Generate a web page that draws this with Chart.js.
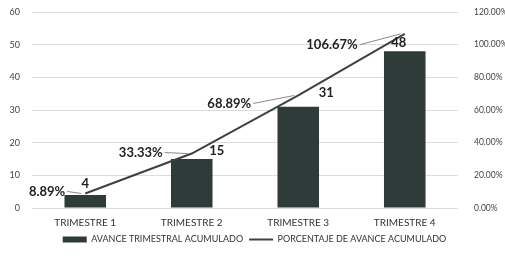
<!DOCTYPE html>
<html>
<head>
<meta charset="utf-8">
<script src="https://cdn.jsdelivr.net/npm/chart.js@4.4.0/dist/chart.umd.min.js"></script>
<style>
  html, body { margin: 0; padding: 0; background: #fff; }
  #wrap { width: 505px; height: 256px; }
</style>
</head>
<body>
<div id="wrap"><canvas id="c" width="505" height="256"></canvas></div>
<script>
// datos del gráfico
const categorias = ['TRIMESTRE 1', 'TRIMESTRE 2', 'TRIMESTRE 3', 'TRIMESTRE 4'];
const avanceAcumulado = [4, 15, 31, 48];
const porcentajeAvance = [8.89, 33.33, 68.89, 106.67];
const ticksIzq = [0, 10, 20, 30, 40, 50, 60];
const ticksDer = [0, 20, 40, 60, 80, 100, 120];

// ajustes de posición de las etiquetas (a mano, como en el original)
const offBarra = [[0, -11], [25, -8], [28, -14], [-6, -8]];
const offPct = [[-20, -2], [-29, -1], [-47, 8], [-47, 11]];

const FONT = 'Lato, "Open Sans", sans-serif';
const BAR = '#2f3b38';
const LINE = '#404040';

const etiquetas = {
  id: 'etiquetas',
  afterDatasetsDraw(chart) {
    const ctx = chart.ctx;
    const barras = chart.getDatasetMeta(0).data;
    const puntos = chart.getDatasetMeta(1).data;
    ctx.save();
    ctx.font = 'bold 13px ' + FONT;
    ctx.fillStyle = '#222';
    ctx.textBaseline = 'middle';
    ctx.textAlign = 'center';
    barras.forEach((b, i) => {
      ctx.fillText(String(avanceAcumulado[i]), b.x + offBarra[i][0], b.y + offBarra[i][1]);
    });
    ctx.textAlign = 'right';
    puntos.forEach((p, i) => {
      const tx = p.x + offPct[i][0];
      const ty = p.y + offPct[i][1];
      ctx.fillText(porcentajeAvance[i].toFixed(2) + '%', tx, ty);
      ctx.strokeStyle = '#8a8a8a';
      ctx.lineWidth = 1;
      ctx.beginPath();
      ctx.moveTo(tx + 2, ty);
      ctx.lineTo(p.x - 4, p.y);
      ctx.stroke();
    });
    ctx.restore();
  },
};

// sin relleno extra arriba/abajo por el padding de los ticks
const sinPadding = (s, w) => { s.width = w; s.paddingTop = 0; s.paddingBottom = 0; };

new Chart(document.getElementById('c'), {
  data: {
    labels: categorias,
    datasets: [
      {
        type: 'bar',
        label: 'AVANCE TRIMESTRAL ACUMULADO',
        data: avanceAcumulado,
        backgroundColor: BAR,
        borderWidth: 0,
        barPercentage: 0.39,
        categoryPercentage: 1,
        yAxisID: 'y',
        order: 2,
      },
      {
        type: 'line',
        label: 'PORCENTAJE DE AVANCE ACUMULADO',
        data: porcentajeAvance,
        borderColor: LINE,
        backgroundColor: LINE,
        borderWidth: 2,
        pointRadius: 0,
        tension: 0,
        yAxisID: 'y1',
        order: 1,
      },
    ],
  },
  options: {
    responsive: false,
    animation: false,
    layout: { padding: { top: 12, left: 4, right: 0, bottom: 2 } },
    scales: {
      x: {
        grid: { display: false, drawTicks: false },
        border: { display: false },
        afterFit: (s) => { s.height = 21; },
        ticks: { color: '#333', font: { family: FONT, size: 10 }, padding: 9 },
      },
      y: {
        position: 'left',
        min: 0, max: 60,
        afterBuildTicks: (s) => { s.ticks = ticksIzq.map((v) => ({ value: v })); },
        afterFit: (s) => sinPadding(s, 28),
        grid: { color: '#dcdcdc', drawTicks: false },
        border: { display: false },
        ticks: { color: '#444', font: { family: FONT, size: 9 }, padding: 12 },
      },
      y1: {
        position: 'right',
        min: 0, max: 120,
        afterBuildTicks: (s) => { s.ticks = ticksDer.map((v) => ({ value: v })); },
        afterFit: (s) => sinPadding(s, 47),
        grid: { display: false },
        border: { display: false },
        ticks: { color: '#444', font: { family: FONT, size: 8.5 }, padding: 8, callback: (v) => v.toFixed(2) + '%' },
      },
    },
    plugins: {
      legend: {
        position: 'bottom',
        labels: {
          color: '#333',
          font: { family: FONT, size: 9 },
          usePointStyle: true,
          pointStyleWidth: 24,
          boxHeight: 6,
          padding: 6,
          generateLabels: (chart) => chart.data.datasets.map((d, i) => ({
            text: d.label,
            fillStyle: d.type === 'bar' ? BAR : LINE,
            strokeStyle: d.type === 'bar' ? BAR : LINE,
            lineWidth: d.type === 'bar' ? 0 : 2,
            pointStyle: d.type === 'bar' ? 'rect' : 'line',
            fontColor: '#333',
            datasetIndex: i,
          })),
        },
      },
      tooltip: { enabled: false },
    },
  },
  plugins: [etiquetas],
});
</script>
</body>
</html>
